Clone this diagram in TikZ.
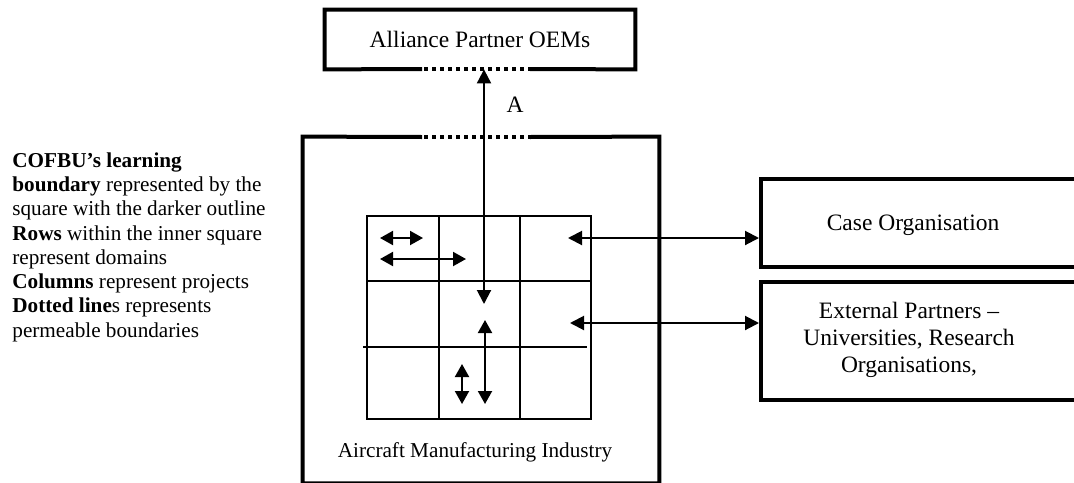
\documentclass[tikz,border=0pt]{standalone}
\usepackage{fontspec}
\setmainfont{Liberation Serif}
\usetikzlibrary{arrows.meta,calc}
\begin{document}
\begin{tikzpicture}[x=0.5pt,y=-0.5pt,
  frame/.style={line width=2pt},
  dotgap/.style={line width=1.6pt, dash pattern=on 2pt off 2pt},
  cell/.style={line width=1pt},
  link/.style={line width=1pt, {Triangle[length=7pt,width=7pt]}-{Triangle[length=7pt,width=7pt]}},
  minilink/.style={line width=1pt, {Triangle[length=6.5pt,width=7pt]}-{Triangle[length=6.5pt,width=7pt]}},
  big/.style={font=\fontsize{11.75}{13.5}\selectfont},
  small/.style={font=\fontsize{10.6}{12.15}\selectfont},
]
\useasboundingbox (0,0) rectangle (1074,482);
\clip (0,0) rectangle (1074,482);

% Alliance partners box, with a permeable (dotted) lower edge
\node[big, minimum width=155pt, minimum height=29.5pt, inner sep=0] (oem) at (480,39.5) {Alliance Partner OEMs};
\draw[frame] (422,69) -- (oem.south west) -- (oem.north west) -- (oem.north east) -- (oem.south east) -- (530,69);
\draw[dotgap] (424,69) -- (530,69);

% Industry boundary, with a permeable (dotted) upper edge
\node[minimum width=178pt, minimum height=173pt, inner sep=0] (mfg) at (481,310) {};
\draw[frame] (422,137) -- (mfg.north west) -- (mfg.south west) -- (mfg.south east) -- (mfg.north east) -- (530,137);
\draw[dotgap] (424,137) -- (530,137);
\node[small] (mfgname) at (475,452) {Aircraft Manufacturing Industry};

% Inner square: rows = domains, columns = projects
\node[draw, cell, minimum width=112pt, minimum height=101.5pt, inner sep=0] (grid) at (479,317.5) {};
\draw[cell] (439,216) -- (439,419);
\draw[cell] (520,216) -- (520,419);
\draw[cell] (366,281) -- (590,281);
\draw[cell] (363,347) -- (587,347);

% Exchanges inside the grid
\coordinate (h1a) at (380,238); \coordinate (h1b) at (423,238);
\coordinate (h2a) at (380,259); \coordinate (h2b) at (466,259);
\coordinate (v1a) at (485,320); \coordinate (v1b) at (485,404);
\coordinate (v2a) at (462,364); \coordinate (v2b) at (462,404);
\draw[minilink] (h1a) -- (h1b);
\draw[minilink] (h2a) -- (h2b);
\draw[minilink] (v1a) -- (v1b);
\draw[minilink] (v2a) -- (v2b);

% Link to the alliance partners
\coordinate (aTop) at ([xshift=2pt]oem.south);
\coordinate (aBot) at (484,304);
\draw[link] (aTop) -- (aBot);
\node[big] (alabel) at (515,105) {A};

% Right-hand partner boxes
\node[draw, frame, minimum width=164pt, minimum height=44pt, inner sep=0] (case) at (925,223) {};
\node[big] (casetxt) at (913,225) {Case Organisation};
\node[draw, frame, minimum width=164pt, minimum height=59pt, inner sep=0] (ext) at (925,341) {};
\node[big, align=center] (exttxt) at (909,340) {External Partners --\\ Universities, Research\\ Organisations,};

\coordinate (c1) at (568,238);
\coordinate (c2) at (570,323);
\draw[link] (c1) -- (c1 -| case.west);
\draw[link] (c2) -- (c2 -| ext.west);

% Legend
\node[small, align=left, anchor=north west, inner sep=0] (legend) at (12,152)
  {\textbf{COFBU’s learning}\\
   \textbf{boundary} represented by the\\
   square with the darker outline\\
   \textbf{Rows} within the inner square\\
   represent domains\\
   \textbf{Columns} represent projects\\
   \textbf{Dotted line}s represents\\
   permeable boundaries};
\end{tikzpicture}
\end{document}
